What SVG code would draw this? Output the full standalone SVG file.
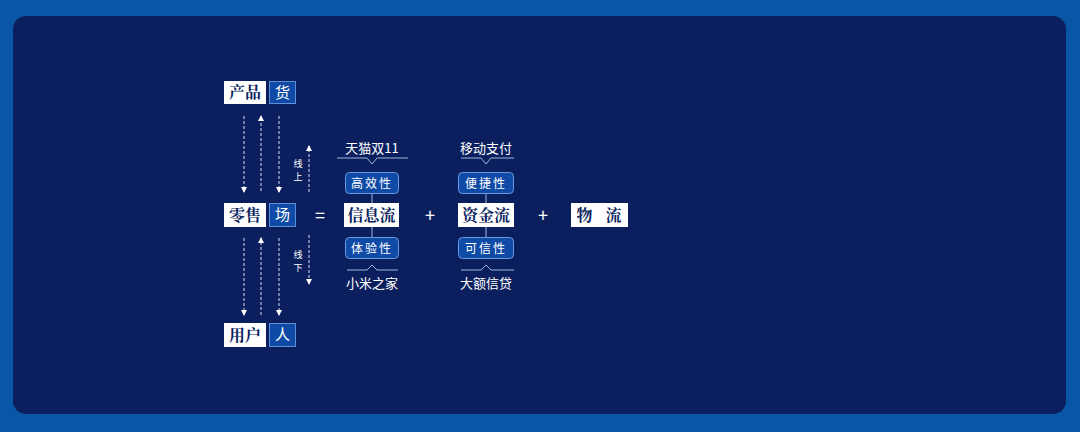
<svg xmlns="http://www.w3.org/2000/svg" width="1080" height="432" viewBox="0 0 1080 432">
<defs>
<marker id="ad" viewBox="0 0 6 6" refX="5" refY="3" markerWidth="6" markerHeight="6" orient="auto" markerUnits="userSpaceOnUse"><path d="M0,0 L6,3 L0,6 Z" fill="#ffffff"/></marker>
<style>
.wb{fill:#ffffff}
.bb{fill:#0f4ba6;stroke:#5f8fd6;stroke-width:1}
.rb{fill:#0f4ba6;stroke:#6b9ae0;stroke-width:1}
.tw{font-family:"Noto Sans CJK SC","Noto Sans",sans-serif;fill:#ffffff;text-anchor:middle}
.tk{font-family:"Noto Serif CJK SC","Noto Sans CJK SC",serif;fill:#0b1f5e;font-weight:bold;text-anchor:middle;font-size:16px}
.tb{font-family:"Noto Sans CJK SC",sans-serif;fill:#ffffff;text-anchor:middle;font-size:15px}
.dash{stroke:#d9e2f2;stroke-width:1;stroke-dasharray:3,2;fill:none}
.ln{stroke:#9fb6dc;stroke-width:1;fill:none}
</style>
</defs>
<rect x="0" y="0" width="1080" height="432" fill="#0a56a6"/>
<rect x="13" y="16" width="1053" height="398" rx="13" fill="#0b1f5f"/>

<g id="connectors">
<line class="dash" x1="244" y1="116" x2="244" y2="192" marker-end="url(#ad)"/>
<line class="dash" x1="261" y1="191" x2="261" y2="116" marker-end="url(#ad)"/>
<line class="dash" x1="279" y1="116" x2="279" y2="192" marker-end="url(#ad)"/>
<line class="dash" x1="309" y1="192" x2="309" y2="146" marker-end="url(#ad)"/>
<line class="dash" x1="244" y1="238" x2="244" y2="315" marker-end="url(#ad)"/>
<line class="dash" x1="261" y1="315" x2="261" y2="238" marker-end="url(#ad)"/>
<line class="dash" x1="279" y1="238" x2="279" y2="315" marker-end="url(#ad)"/>
<line class="dash" x1="309" y1="235" x2="309" y2="284" marker-end="url(#ad)"/>
<line class="ln" x1="372" y1="194" x2="372" y2="237"/>
<line class="ln" x1="486" y1="194" x2="486" y2="237"/>
<path class="ln" d="M337,158 H367 L372,164 L377,158 H408"/>
<path class="ln" d="M347,270 H367 L372,265 L377,270 H398"/>
<path class="ln" d="M461,158 H481 L486,164 L491,158 H514"/>
<path class="ln" d="M461,270 H481 L486,265 L491,270 H514"/>
</g>

<g id="n-chanpin"><rect class="wb" x="224" y="81" width="42" height="23"/><text class="tk" x="245" y="98">产品</text></g>
<g id="n-huo"><rect class="bb" x="269.5" y="81.5" width="26" height="22"/><text class="tb" x="282.5" y="98">货</text></g>
<g id="n-lingshou"><rect class="wb" x="224" y="203" width="42" height="24"/><text class="tk" x="245" y="221">零售</text></g>
<g id="n-chang"><rect class="bb" x="269.5" y="203.5" width="26" height="23"/><text class="tb" x="282.5" y="220">场</text></g>
<g id="n-yonghu"><rect class="wb" x="224" y="323" width="42" height="24"/><text class="tk" x="245" y="341">用户</text></g>
<g id="n-ren"><rect class="bb" x="269.5" y="323.5" width="26" height="23"/><text class="tb" x="282.5" y="340">人</text></g>

<g id="l-xianshang"><text class="tw" x="298" y="167" font-size="9">线</text><text class="tw" x="298" y="180" font-size="9">上</text></g>
<g id="l-xianxia"><text class="tw" x="298" y="258" font-size="9">线</text><text class="tw" x="298" y="271" font-size="9">下</text></g>

<g id="op-eq"><text class="tw" x="320" y="222" font-size="18">=</text></g>
<g id="op-plus1"><text class="tw" x="430" y="222" font-size="18">+</text></g>
<g id="op-plus2"><text class="tw" x="543" y="222" font-size="18">+</text></g>

<g id="n-xinxiliu"><rect class="wb" x="344" y="203" width="55" height="24"/><text class="tk" x="371.5" y="221">信息流</text></g>
<g id="n-tianmao"><text class="tw" x="372" y="153" font-size="13">天猫双11</text></g>
<g id="n-gaoxiao"><rect class="rb" x="345.5" y="172.5" width="53" height="21" rx="4"/><text class="tw" x="372" y="188" font-size="12" letter-spacing="2">高效性</text></g>
<g id="n-tiyan"><rect class="rb" x="345.5" y="237.5" width="53" height="21" rx="4"/><text class="tw" x="372" y="253" font-size="12" letter-spacing="2">体验性</text></g>
<g id="n-xiaomi"><text class="tw" x="372" y="288" font-size="13">小米之家</text></g>

<g id="n-zijinliu"><rect class="wb" x="458" y="203" width="56" height="24"/><text class="tk" x="486" y="221">资金流</text></g>
<g id="n-yidong"><text class="tw" x="486" y="153" font-size="13">移动支付</text></g>
<g id="n-bianjie"><rect class="rb" x="458.5" y="172.5" width="55" height="21" rx="4"/><text class="tw" x="486" y="188" font-size="12" letter-spacing="2">便捷性</text></g>
<g id="n-kexin"><rect class="rb" x="458.5" y="237.5" width="55" height="21" rx="4"/><text class="tw" x="486" y="253" font-size="12" letter-spacing="2">可信性</text></g>
<g id="n-daer"><text class="tw" x="486" y="288" font-size="13">大额信贷</text></g>

<g id="n-wuliu"><rect class="wb" x="571" y="203" width="57" height="24"/><text class="tk" x="584.5" y="221">物</text><text class="tk" x="613.5" y="221">流</text></g>
</svg>
